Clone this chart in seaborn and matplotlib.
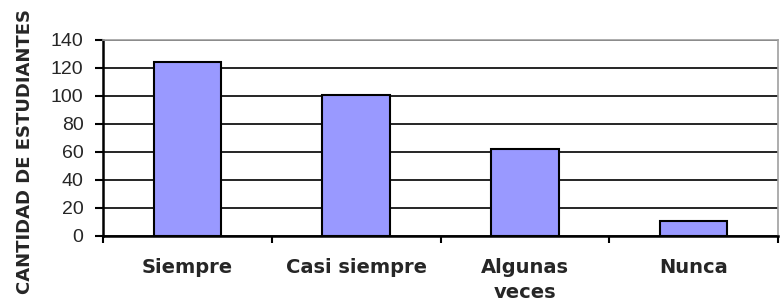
import numpy as np
import pandas as pd
import seaborn as sns
import matplotlib.pyplot as plt

categorias = ['Siempre', 'Casi siempre', 'Algunas\nveces', 'Nunca']
cantidad = [124, 101, 62, 11]

df = pd.DataFrame({'categoria': categorias, 'cantidad': cantidad})

sns.set_style('white')
plt.rcParams['font.family'] = ['Liberation Sans', 'DejaVu Sans']

fig = plt.figure(figsize=(7.82, 3.07), dpi=100)
ax = fig.add_axes([103 / 782, 1 - 236 / 307, 675 / 782, 196 / 307])

sns.barplot(data=df, x='categoria', y='cantidad', color='#9999FF',
            edgecolor='black', linewidth=1.5, width=0.4, saturation=1, ax=ax, zorder=3)

ax.set_xlim(-0.5, 3.5)
ax.set_ylim(0, 140)
ax.set_yticks(np.arange(0, 141, 20))
ax.yaxis.grid(True, color='black', linewidth=1.2, zorder=0)
ax.set_axisbelow(True)

ax.set_xlabel('')
ax.set_ylabel('')
fig.text(25 / 782, 1 - 151 / 307, 'CANTIDAD DE ESTUDIANTES', rotation=90,
         ha='center', va='center', fontsize=13, fontweight='bold', family='DejaVu Sans')

# ticks between categories on x axis
ax.set_xticks(np.arange(-0.5, 3.6, 1), minor=True)
ax.tick_params(axis='x', which='major', length=0, pad=16)
ax.tick_params(axis='x', which='minor', length=5, width=1.5, color='black', direction='out', bottom=True)
for lbl in ax.get_xticklabels():
    lbl.set_fontweight('bold')
    lbl.set_family('DejaVu Sans')
    lbl.set_fontsize(14)
    lbl.set_linespacing(1.4)
ax.tick_params(axis='y', which='major', length=6, width=1.5, color='black',
               direction='out', left=True, labelsize=14, pad=8)

for s in ['left', 'bottom']:
    ax.spines[s].set_color('black')
    ax.spines[s].set_linewidth(1.8)
for s in ['top', 'right']:
    ax.spines[s].set_color('#A0A0A0')
    ax.spines[s].set_linewidth(1.2)

fig.savefig('out.png', dpi=100)
